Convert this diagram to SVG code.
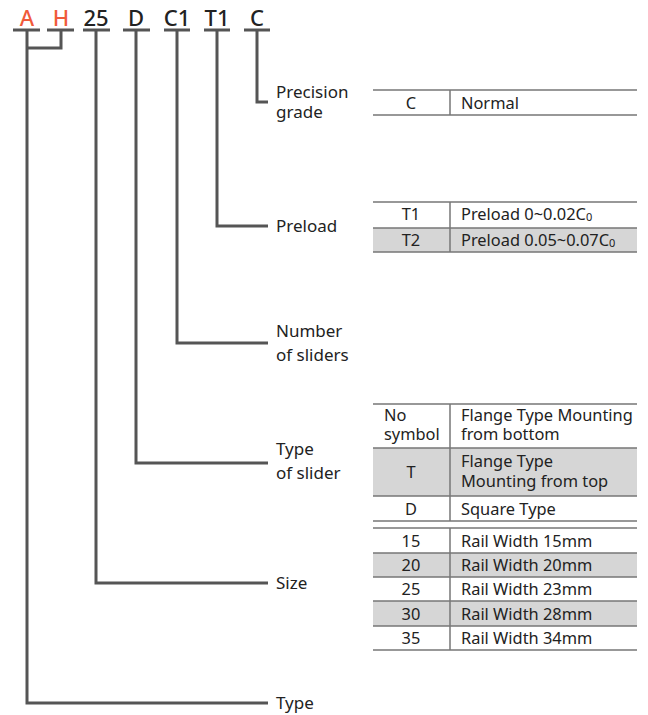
<svg xmlns="http://www.w3.org/2000/svg" width="648" height="715" viewBox="0 0 648 715">
<style>
.code{font-family:"Noto Sans","Liberation Sans",sans-serif;font-size:22px;fill:#222;text-anchor:middle;font-weight:500}
.red{fill:#f05a3a}
.lbl{font-family:"Noto Sans","Liberation Sans",sans-serif;font-size:17px;fill:#222}
.t{font-family:"Noto Sans","Liberation Sans",sans-serif;font-size:16.4px;fill:#222}
.c{text-anchor:middle}
.con{stroke:#555;stroke-width:3;fill:none}
.tl{stroke:#777;stroke-width:1.5;fill:none}
.g{fill:#d6d6d6}
</style>
<rect width="648" height="715" fill="#fff"/>
<g id="code">
<text class="code red" x="27" y="26">A</text>
<text class="code red" x="61" y="26">H</text>
<text class="code" x="96" y="26">25</text>
<text class="code" x="136" y="26">D</text>
<text class="code" x="177" y="26">C1</text>
<text class="code" x="217" y="26">T1</text>
<text class="code" x="257" y="26">C</text>
</g>
<g id="connectors">
<path class="con" d="M13 30H40M47 30H74M83 30H110M123 30H150M164 30H190M204 30H230M244 30H270"/>
<path class="con" d="M61 30V48H27"/>
<path class="con" d="M27 30V703H268"/>
<path class="con" d="M96 30V583H268"/>
<path class="con" d="M136 30V463H268"/>
<path class="con" d="M177 30V343H268"/>
<path class="con" d="M217 30V226H268"/>
<path class="con" d="M257 30V102H268"/>
</g>
<g id="labels">
<text class="lbl" x="276" y="98">Precision</text>
<text class="lbl" x="276" y="118">grade</text>
<text class="lbl" x="276" y="232">Preload</text>
<text class="lbl" x="276" y="337">Number</text>
<text class="lbl" x="276" y="361">of sliders</text>
<text class="lbl" x="276" y="455">Type</text>
<text class="lbl" x="276" y="479">of slider</text>
<text class="lbl" x="276" y="589">Size</text>
<text class="lbl" x="276" y="709">Type</text>
</g>
<g id="table-precision">
<path class="tl" d="M373 90H637M373 115H637M450 90V115"/>
<text class="t c" x="411" y="109">C</text>
<text class="t" x="461" y="109">Normal</text>
</g>
<g id="table-preload">
<rect class="g" x="373" y="228" width="264" height="24"/>
<path class="tl" d="M373 202H637M373 228H637M373 252H637M450 202V252"/>
<text class="t c" x="411" y="220">T1</text>
<text class="t" x="461" y="220">Preload 0~0.02C<tspan font-size="11" dy="1">0</tspan></text>
<text class="t c" x="411" y="246">T2</text>
<text class="t" x="461" y="246">Preload 0.05~0.07C<tspan font-size="11" dy="1">0</tspan></text>
</g>
<g id="table-type">
<rect class="g" x="373" y="448" width="264" height="48"/>
<path class="tl" d="M373 404H637M373 448H637M373 496H637M373 521H637M450 404V521"/>
<text class="t" x="384" y="421">No</text>
<text class="t" x="384" y="440">symbol</text>
<text class="t" x="461" y="421">Flange Type Mounting</text>
<text class="t" x="461" y="440">from bottom</text>
<text class="t c" x="411" y="478">T</text>
<text class="t" x="461" y="467">Flange Type</text>
<text class="t" x="461" y="487">Mounting from top</text>
<text class="t c" x="411" y="515">D</text>
<text class="t" x="461" y="515">Square Type</text>
</g>
<g id="table-size">
<rect class="g" x="373" y="553" width="264" height="24"/>
<rect class="g" x="373" y="601" width="264" height="25"/>
<path class="tl" d="M373 528H637M373 553H637M373 577H637M373 601H637M373 626H637M373 650H637M450 528V650"/>
<text class="t c" x="411" y="547">15</text>
<text class="t" x="461" y="547">Rail Width 15mm</text>
<text class="t c" x="411" y="571">20</text>
<text class="t" x="461" y="571">Rail Width 20mm</text>
<text class="t c" x="411" y="595">25</text>
<text class="t" x="461" y="595">Rail Width 23mm</text>
<text class="t c" x="411" y="620">30</text>
<text class="t" x="461" y="620">Rail Width 28mm</text>
<text class="t c" x="411" y="644">35</text>
<text class="t" x="461" y="644">Rail Width 34mm</text>
</g>
</svg>
